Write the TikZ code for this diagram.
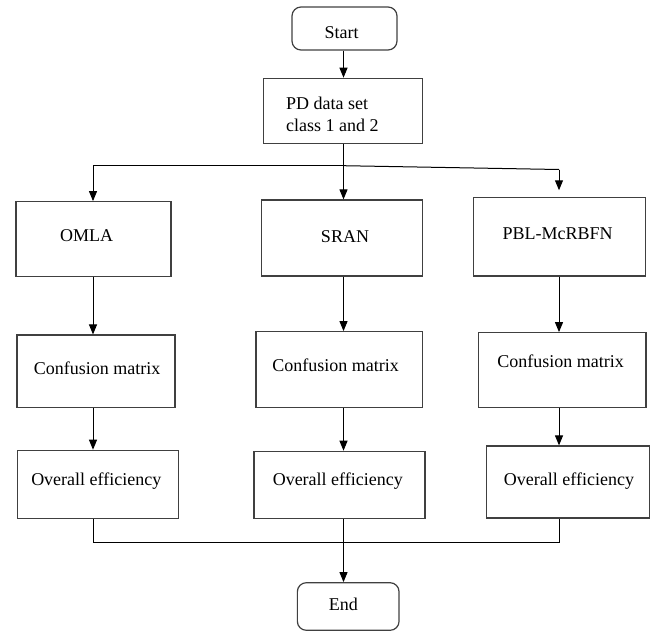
\documentclass[tikz,border=0pt]{standalone}
\usepackage{fontspec}
\setmainfont{Liberation Serif}
\usetikzlibrary{arrows.meta}
\begin{document}
\begin{tikzpicture}[x=1pt,y=-1pt,
  box/.style={draw=black!75, line width=1.2pt, rectangle, inner sep=0pt},
  term/.style={box, rounded corners=9pt},
  lbl/.style={inner sep=0pt, font=\fontsize{18}{21.7}\selectfont},
  flow/.style={draw=black, line width=1pt},
  arr/.style={flow, -{Triangle[length=10pt,width=8pt]}}]
\useasboundingbox (0,0) rectangle (656,632);

% column positions of the vertical connectors
\coordinate (colA) at (93,0);
\coordinate (colB) at (343.5,0);
\coordinate (colC) at (559,0);

% terminals and process boxes
\node[term, minimum width=105pt, minimum height=43pt] (start) at (344.5,28.5) {};
\node[box, minimum width=159.4pt, minimum height=65pt] (pd) at (343,110.8) {};

\node[box, minimum width=155pt, minimum height=75pt] (omla) at (93.5,239.2) {};
\node[box, minimum width=161pt, minimum height=76pt] (sran) at (342.2,238) {};
\node[box, minimum width=171.6pt, minimum height=78.7pt] (pbl) at (559.5,236.7) {};

\node[box, minimum width=158pt, minimum height=72.3pt] (cm1) at (96,371.2) {};
\node[box, minimum width=166.7pt, minimum height=75.6pt] (cm2) at (339.4,369.5) {};
\node[box, minimum width=167.3pt, minimum height=74.6pt] (cm3) at (562.4,370) {};

\node[box, minimum width=161pt, minimum height=68.4pt] (oe1) at (97.8,484.5) {};
\node[box, minimum width=171pt, minimum height=67.4pt] (oe2) at (339.5,485) {};
\node[box, minimum width=162.6pt, minimum height=72pt] (oe3) at (568,482) {};

\node[term, minimum width=101.7pt, minimum height=47.6pt] (end) at (348.2,606.5) {};

% labels
\node[lbl] (tstart) at (341.7,32.3) {Start};
\node[lbl, anchor=west, align=left] (tpd) at (286,114) {PD data set\\class 1 and 2};
\node[lbl] (tomla) at (86.7,236) {OMLA};
\node[lbl] (tsran) at (345,236.7) {SRAN};
\node[lbl] (tpbl) at (557.7,234) {PBL-McRBFN};
\node[lbl] (tcm1) at (97,368.3) {Confusion matrix};
\node[lbl] (tcm2) at (335.6,365) {Confusion matrix};
\node[lbl] (tcm3) at (560.7,361.7) {Confusion matrix};
\node[lbl] (toe1) at (96.3,481.5) {Overall efficiency};
\node[lbl] (toe2) at (337.8,481.5) {Overall efficiency};
\node[lbl] (toe3) at (569,481.5) {Overall efficiency};
\node[lbl] (tend) at (343.3,604.7) {End};

% branching below the data set
\coordinate (split) at (343.5,165.7);
\coordinate (bendR) at (559,169.5);
\coordinate (joinY) at (0,542);

\draw[arr] (start.south -| colB) -- (pd.north -| colB);
\draw[flow] (pd.south -| colB) -- (split);
\draw[arr] (split) -- (sran.north -| colB);
\draw[arr] (split) -| (omla.north -| colA);
\draw[flow] (split) -- (bendR);
\draw[arr, shorten >=6.5pt] (bendR) -- (pbl.north -| colC);

% method columns
\draw[arr] (omla.south -| colA) -- (cm1.north -| colA);
\draw[arr] (sran.south -| colB) -- (cm2.north -| colB);
\draw[arr] (pbl.south -| colC) -- (cm3.north -| colC);
\draw[arr] (cm1.south -| colA) -- (oe1.north -| colA);
\draw[arr] (cm2.south -| colB) -- (oe2.north -| colB);
\draw[arr] (cm3.south -| colC) -- (oe3.north -| colC);

% merge into the end terminal
\draw[flow] (oe1.south -| colA) -- (colA |- joinY) -- (colC |- joinY) -- (oe3.south -| colC);
\draw[arr] (oe2.south -| colB) -- (end.north -| colB);
\end{tikzpicture}
\end{document}
